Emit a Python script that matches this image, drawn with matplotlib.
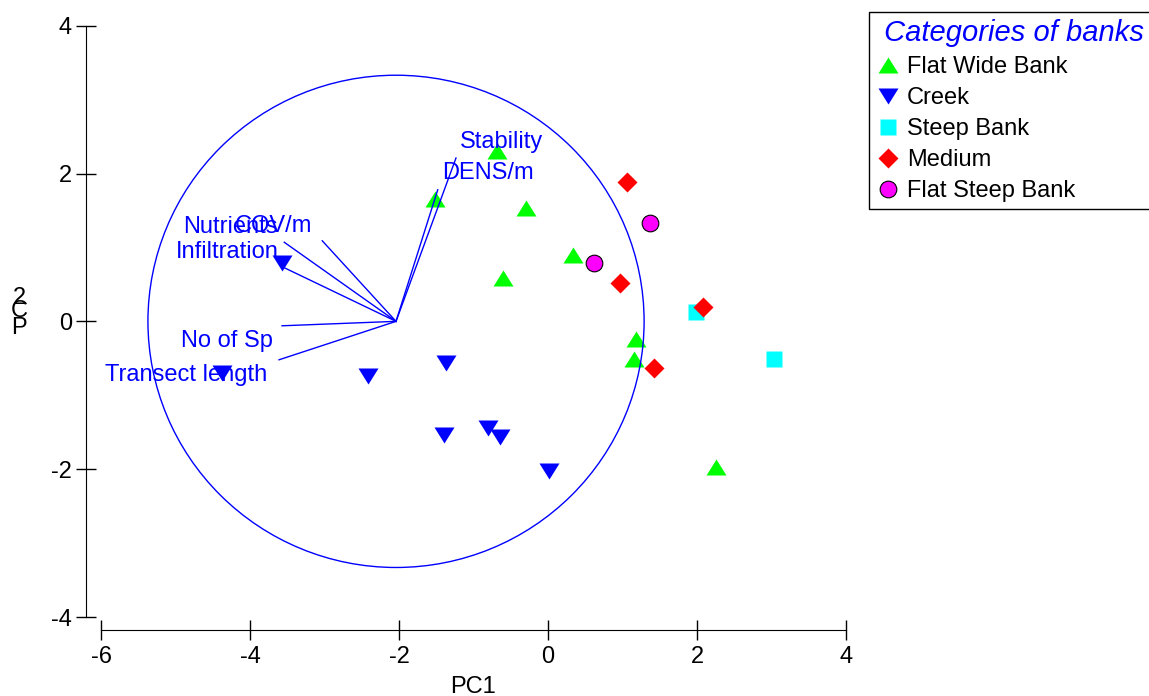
import matplotlib.pyplot as plt
from matplotlib.patches import Circle
from matplotlib.path import Path
import numpy as np

plt.rcParams['font.family'] = ['Liberation Sans', 'DejaVu Sans']
plt.rcParams['axes.unicode_minus'] = False

# sample scores on PC1 / PC2, by bank category
flat_wide_x = [-0.69, -1.52, -0.30, 0.33, -0.61, 1.18, 1.16, 2.25]
flat_wide_y = [2.30, 1.65, 1.54, 0.90, 0.58, -0.24, -0.51, -1.97]
creek_x = [-3.57, -4.38, -2.41, -1.37, -1.39, -0.80, -0.64, 0.01]
creek_y = [0.79, -0.70, -0.74, -0.57, -1.54, -1.44, -1.56, -2.02]
steep_x = [1.98, 3.04]
steep_y = [0.12, -0.51]
medium_x = [1.06, 0.96, 2.08, 1.42]
medium_y = [1.89, 0.52, 0.19, -0.63]
flat_steep_x = [1.37, 0.62]
flat_steep_y = [1.33, 0.79]

# variable loadings (end points of the vectors) and label positions
var_names = ['Stability', 'DENS/m', 'COV/m', 'Nutrients', 'Infiltration', 'No of Sp', 'Transect length']
vec_x = [-1.235, -1.48, -3.03, -3.54, -3.57, -3.57, -3.61]
vec_y = [2.21, 1.78, 1.09, 1.07, 0.74, -0.06, -0.52]
lab_x = [-0.62, -0.81, -3.69, -4.27, -4.31, -4.31, -4.86]
lab_y = [2.42, 2.01, 1.29, 1.28, 0.94, -0.26, -0.73]
origin = (-2.04, 0.0)
circle_r = 3.33

up_tri = Path([(-1, -0.8), (1, -0.8), (0, 0.8), (-1, -0.8)], closed=True)
down_tri = Path([(-1, 0.8), (1, 0.8), (0, -0.8), (-1, 0.8)], closed=True)

fig = plt.figure(figsize=(11.49, 6.96), dpi=100)
ax = fig.add_axes([101 / 1149, 79 / 696, 745 / 1149, 591.3 / 696])

ax.plot(flat_wide_x, flat_wide_y, ls='none', marker=up_tri, ms=14.4, color='#00ff00', mec='none', label='Flat Wide Bank')
ax.plot(creek_x, creek_y, ls='none', marker=down_tri, ms=14.4, color='#0000ff', mec='none', label='Creek')
ax.plot(steep_x, steep_y, ls='none', marker='s', ms=12.2, color='#00ffff', mec='none', label='Steep Bank')
ax.plot(medium_x, medium_y, ls='none', marker='D', ms=9.7, color='#ff0000', mec='none', label='Medium')
ax.plot(flat_steep_x, flat_steep_y, ls='none', marker='o', ms=12, color='#ff00ff', mec='black', mew=0.8, label='Flat Steep Bank')

for vx, vy in zip(vec_x, vec_y):
    ax.plot([origin[0], vx], [origin[1], vy], color='#0000ff', lw=1, zorder=3)
for name, tx, ty in zip(var_names, lab_x, lab_y):
    ax.text(tx, ty, name, color='#0000ff', fontsize=17, ha='center', va='center', zorder=4)

ax.add_patch(Circle(origin, circle_r, fill=False, edgecolor='#0000ff', lw=1, zorder=3))

ax.set_xlim(-6, 4)
ax.set_ylim(-4, 4)
ax.set_xticks([-6, -4, -2, 0, 2, 4])
ax.set_yticks([-4, -2, 0, 2, 4])
ax.spines['top'].set_visible(False)
ax.spines['right'].set_visible(False)
ax.spines['left'].set_position(('outward', 10.8))
ax.spines['bottom'].set_position(('outward', 9.4))
ax.tick_params(axis='both', direction='inout', length=14.4, width=1, labelsize=17)
ax.tick_params(axis='y', pad=3)
ax.tick_params(axis='x', pad=4)
ax.set_xlabel('PC1', fontsize=17, labelpad=6)

# the y label is drawn as stacked characters, as in the original
for ch, yy in zip('2CP', [298, 311.5, 328]):
    fig.text(19 / 1149, 1 - yy / 696, ch, fontsize=17, ha='center', va='center')

leg = fig.legend(loc='upper left', bbox_to_anchor=(869 / 1149, 1 - 12 / 696),
                 fontsize=17, title=' Categories of banks', fancybox=False,
                 edgecolor='black', framealpha=1, handlelength=1.0,
                 handletextpad=0.3, labelspacing=0.38, borderpad=0.3,
                 borderaxespad=0, alignment='left')
leg.get_frame().set_linewidth(1)
leg.get_title().set_color('#0000ff')
leg.get_title().set_style('italic')
leg.get_title().set_fontsize(21)

plt.savefig('out.png')
